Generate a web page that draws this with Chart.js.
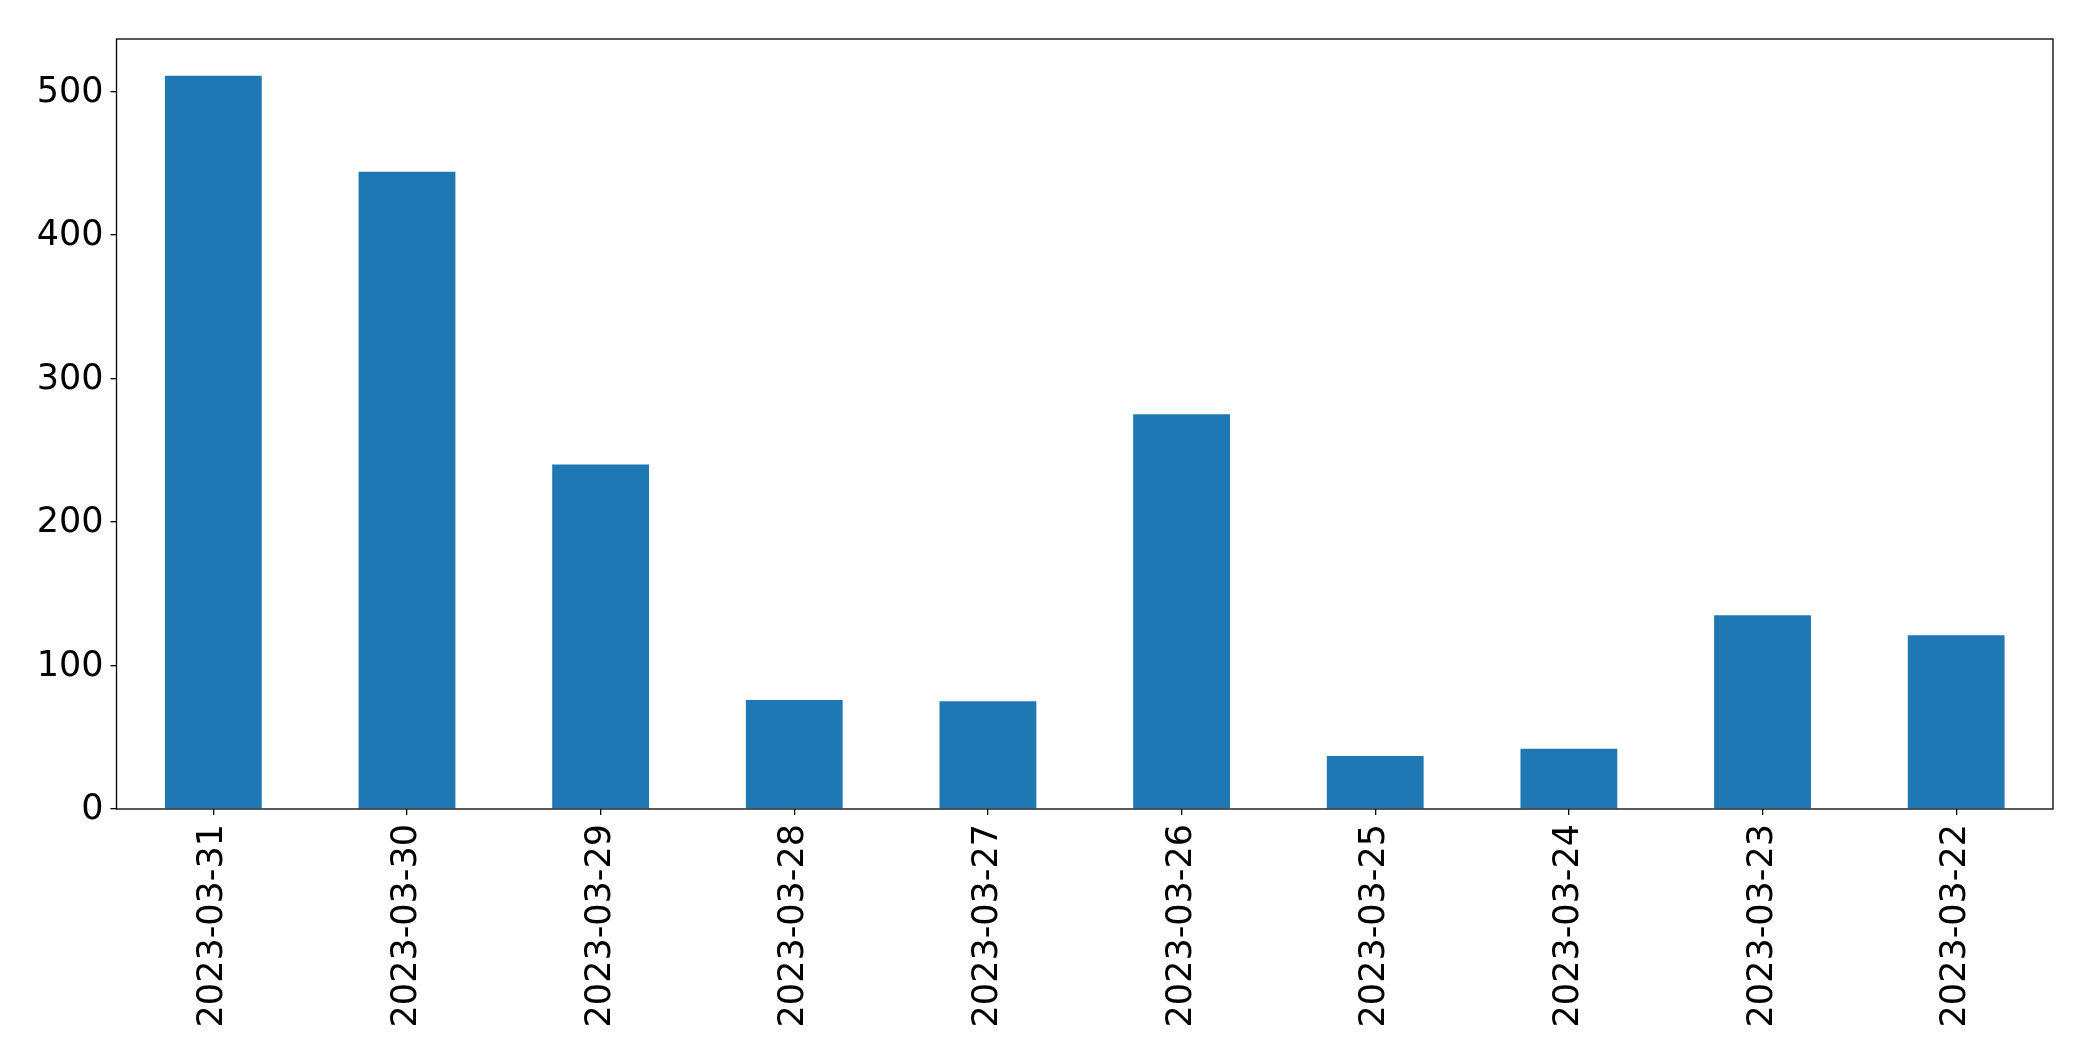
<!DOCTYPE html>
<html>
<head>
<meta charset="utf-8">
<script src="https://cdn.jsdelivr.net/npm/chart.js@4"></script>
<style>
  html, body { margin: 0; padding: 0; background: #fff; }
  .wrap { position: relative; width: 2093px; height: 1061px; }
</style>
</head>
<body>
<div class="wrap"><canvas id="chart"></canvas></div>
<script>
// data
const dates = ["2023-03-31", "2023-03-30", "2023-03-29", "2023-03-28", "2023-03-27",
               "2023-03-26", "2023-03-25", "2023-03-24", "2023-03-23", "2023-03-22"];
const counts = [511, 444, 240, 76, 75, 275, 37, 42, 135, 121];
const yTicks = [0, 100, 200, 300, 400, 500];

// box around the plot area
const frame = {
    id: "frame",
    afterDraw(chart) {
        const {ctx, chartArea: a} = chart;
        ctx.save();
        ctx.strokeStyle = "#000";
        ctx.lineWidth = 1.3;
        ctx.strokeRect(a.left, a.top, a.right - a.left, a.bottom - a.top);
        ctx.restore();
    }
};

const font = {family: "'DejaVu Sans'", size: 35};

new Chart(document.getElementById("chart").getContext("2d"), {
    type: "bar",
    data: {
        labels: dates,
        datasets: [{
            data: counts,
            backgroundColor: "#1f77b4",
            barPercentage: 0.5,
            categoryPercentage: 1.0,
        }]
    },
    options: {
        responsive: true,
        maintainAspectRatio: false,
        animation: false,
        events: [],
        layout: {padding: {top: 39, right: 40, left: 0, bottom: 0}},
        plugins: {legend: {display: false}, tooltip: {enabled: false}},
        scales: {
            x: {
                offset: true,
                border: {display: false},
                grid: {offset: false, drawOnChartArea: false, color: "#000", lineWidth: 1.3, tickLength: 6},
                ticks: {color: "#000", font, minRotation: 90, maxRotation: 90, autoSkip: false, padding: 9},
                afterFit(scale) {
                    scale.height = 252;
                    scale.paddingLeft = 0;
                    scale.paddingRight = 0;
                }
            },
            y: {
                min: 0,
                max: Math.max(...counts) * 1.05,
                border: {display: false},
                grid: {drawOnChartArea: false, color: "#000", lineWidth: 1.3, tickLength: 6},
                ticks: {color: "#000", font, padding: 7, labelOffset: 1, includeBounds: false, stepSize: 100},
                afterBuildTicks(scale) {
                    scale.ticks = yTicks.map(v => ({value: v}));
                },
                afterFit(scale) {
                    scale.width = 116.5;
                    scale.paddingTop = 0;
                    scale.paddingBottom = 0;
                }
            }
        }
    },
    plugins: [frame]
});
</script>
</body>
</html>
